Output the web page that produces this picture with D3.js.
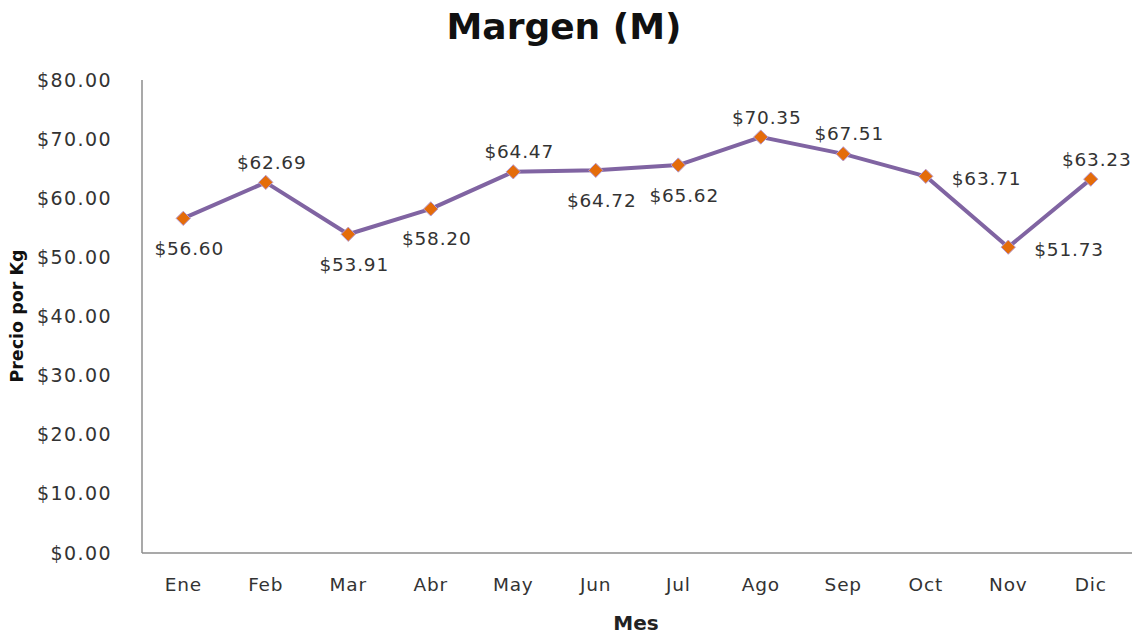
<!DOCTYPE html>
<html>
<head>
<meta charset="utf-8">
<script src="https://cdn.jsdelivr.net/npm/d3@7"></script>
<style>
    body { margin: 0; background: #fff; }
    svg { font-family: "DejaVu Sans", sans-serif; }
    .axis path { stroke: #8c8c8c; stroke-width: 1.5; }
    .axis text { font-family: "DejaVu Sans", sans-serif; font-size: 18.5px; letter-spacing: 0.8px; fill: #333; }
    .y.axis text { font-size: 19px; letter-spacing: 1.4px; }
    .label { font-size: 18.5px; letter-spacing: 0.8px; fill: #333; }
</style>
</head>
<body>
<svg id="chart"></svg>
<script>
const months = ['Ene', 'Feb', 'Mar', 'Abr', 'May', 'Jun', 'Jul', 'Ago', 'Sep', 'Oct', 'Nov', 'Dic'];
const margen = [56.60, 62.69, 53.91, 58.20, 64.47, 64.72, 65.62, 70.35, 67.51, 63.71, 51.73, 63.23];
const labelPos = ['below', 'above', 'below', 'below', 'above', 'below', 'below', 'above', 'above', 'right', 'right', 'above'];
const yTicks = [0, 10, 20, 30, 40, 50, 60, 70, 80];

const margin = {top: 80, right: 3, bottom: 82, left: 142};
const width = 1135 - margin.left - margin.right;
const height = 635 - margin.top - margin.bottom;

const svg = d3.select('#chart')
    .attr('width', 1135)
    .attr('height', 635);

const g = svg.append('g')
    .attr('transform', `translate(${margin.left},${margin.top})`);

const x = d3.scaleBand()
    .domain(months)
    .range([0, width]);

const y = d3.scaleLinear()
    .domain([0, 80])
    .range([height, 0]);

const fmt = d => `$${d.toFixed(2)}`;

// Y axis
g.append('g')
    .attr('class', 'y axis')
    .call(d3.axisLeft(y).tickValues(yTicks).tickFormat(fmt).tickSize(0).tickPadding(30))
    .call(a => a.select('.domain').attr('d', `M0,0V${height}`));

// X axis
g.append('g')
    .attr('class', 'x axis')
    .attr('transform', `translate(0,${height})`)
    .call(d3.axisBottom(x).tickSize(0).tickPadding(25))
    .call(a => a.select('.domain').attr('d', `M0,0H${width}`));

// line
const line = d3.line()
    .x((d, i) => x(months[i]) + x.bandwidth() / 2)
    .y(d => y(d));

g.append('path')
    .datum(margen)
    .attr('fill', 'none')
    .attr('stroke', '#8064a2')
    .attr('stroke-width', 4)
    .attr('stroke-linejoin', 'round')
    .attr('d', line);

// markers
g.selectAll('.marker')
    .data(margen)
    .enter()
    .append('path')
    .attr('class', 'marker')
    .attr('d', d3.symbol(d3.symbolDiamond2, 130))
    .attr('transform', (d, i) => `translate(${x(months[i]) + x.bandwidth() / 2},${y(d)})`)
    .attr('fill', '#e46c0a')
    .attr('stroke', '#b79ad0')
    .attr('stroke-width', 1);

// data labels
g.selectAll('.label')
    .data(margen)
    .enter()
    .append('text')
    .attr('class', 'label')
    .attr('dominant-baseline', 'central')
    .attr('text-anchor', (d, i) => labelPos[i] === 'right' ? 'start' : 'middle')
    .attr('x', (d, i) => {
        const cx = x(months[i]) + x.bandwidth() / 2;
        return labelPos[i] === 'right' ? cx + 26 : cx + 6;
    })
    .attr('y', (d, i) => {
        const cy = y(d);
        if (labelPos[i] === 'above') return cy - 20;
        if (labelPos[i] === 'below') return cy + 30;
        return cy + 2;
    })
    .text(fmt);

// title
svg.append('text')
    .attr('x', 564)
    .attr('y', 26)
    .attr('text-anchor', 'middle')
    .attr('dominant-baseline', 'central')
    .attr('font-size', 36)
    .attr('font-weight', 'bold')
    .attr('fill', '#111')
    .text('Margen (M)');

// X axis label
svg.append('text')
    .attr('x', 636)
    .attr('y', 623)
    .attr('text-anchor', 'middle')
    .attr('dominant-baseline', 'central')
    .attr('font-size', 20)
    .attr('font-weight', 'bold')
    .attr('fill', '#222')
    .text('Mes');

// Y axis label
svg.append('text')
    .attr('transform', 'translate(17,316) rotate(-90)')
    .attr('text-anchor', 'middle')
    .attr('dominant-baseline', 'central')
    .attr('font-size', 17.5)
    .attr('font-weight', 'bold')
    .attr('fill', '#111')
    .text('Precio por Kg');
</script>
</body>
</html>
